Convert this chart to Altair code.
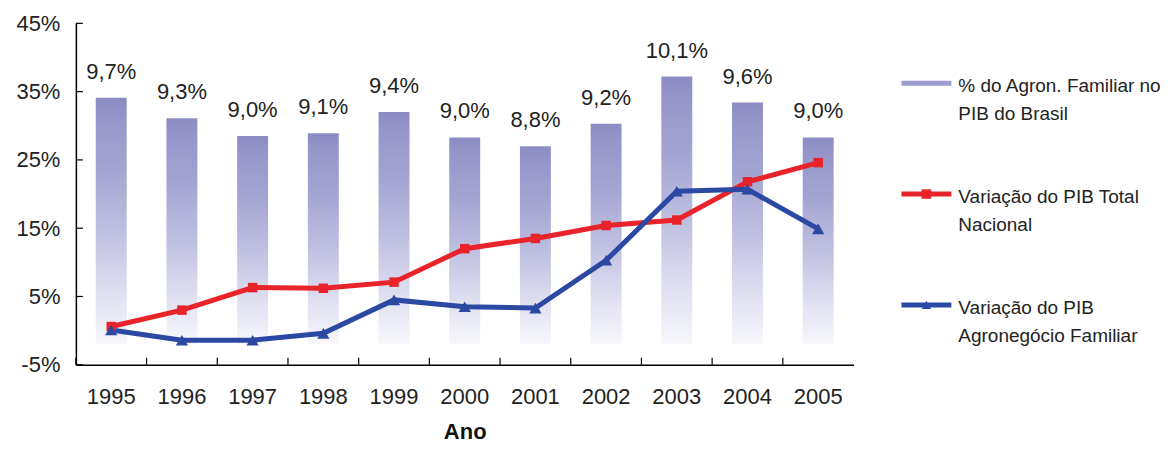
import altair as alt
import pandas as pd

years = ["1995", "1996", "1997", "1998", "1999", "2000", "2001", "2002", "2003", "2004", "2005"]
bar_top = [34.1, 31.1, 28.5, 28.9, 32.0, 28.3, 27.0, 30.3, 37.2, 33.4, 28.3]
bar_label = ["9,7%", "9,3%", "9,0%", "9,1%", "9,4%", "9,0%", "8,8%", "9,2%", "10,1%", "9,6%", "9,0%"]
pib_total = [0.6, 3.0, 6.3, 6.2, 7.1, 12.0, 13.5, 15.4, 16.2, 21.8, 24.6]
pib_agro = [0.1, -1.4, -1.4, -0.4, 4.5, 3.5, 3.3, 10.3, 20.4, 20.7, 14.9]
bar_base = -2
y_ticks = [-5, 5, 15, 25, 35, 45]

series = ["% do Agron. Familiar no", "Variação do PIB Total", "Variação do PIB"]
series_line2 = ["PIB do Brasil", "Nacional", "Agronegócio Familiar"]
series_color = ["#9C9CD0", "#E8232A", "#2B48A3"]
series_shape = ["none", "square", "triangle-up"]

FONT = "Liberation Sans"
W, H = 779, 342

df = pd.DataFrame({"year": years, "bar": bar_top, "label": bar_label,
                   "total": pib_total, "agro": pib_agro})
ticks_df = pd.DataFrame({"v": y_ticks})

yscale = alt.Scale(domain=[-5, 45])
xenc = alt.X("year:O", axis=alt.Axis(title="Ano", labelAngle=0, ticks=False, domainColor="#000",
                                       domainWidth=1.5, labelFontSize=22, labelPadding=22,
                                       labelColor="#222", titleFontSize=22, titleFontWeight="bold",
                                       titlePadding=14, titleColor="#111", labelFont=FONT, titleFont=FONT),
             scale=alt.Scale(paddingInner=0, paddingOuter=0))

base = alt.Chart(df)

grad = alt.Gradient(gradient="linear",
                    stops=[alt.GradientStop(color="#8C8CC4", offset=0),
                           alt.GradientStop(color="#9595CA", offset=0.08),
                           alt.GradientStop(color="#A5A5D3", offset=0.3),
                           alt.GradientStop(color="#C0C0E2", offset=0.55),
                           alt.GradientStop(color="#DEDEF0", offset=0.78),
                           alt.GradientStop(color="#F7F7FC", offset=1)],
                    x1=0, x2=0, y1=0, y2=1)

bars = base.mark_bar(size=31, color=grad).encode(
    x=xenc,
    y=alt.Y("bar:Q", scale=yscale,
            axis=alt.Axis(title=None, values=y_ticks, labelExpr="datum.value + '%'", ticks=False,
                          grid=False, domainColor="#000", domainWidth=1.5, labelFontSize=22,
                          labelPadding=16, minExtent=68, labelColor="#222", labelFont=FONT)),
    y2=alt.datum(bar_base),
)

bar_text = base.mark_text(dy=-26, fontSize=22, font=FONT, color="#222").encode(
    x="year:O", y=alt.Y("bar:Q", scale=yscale), text="label:N")

line_total = base.mark_line(color="#E8232A", strokeWidth=5).encode(
    x="year:O", y=alt.Y("total:Q", scale=yscale))
pts_total = base.mark_point(shape="square", filled=True, opacity=1, color="#E8232A", size=90).encode(
    x="year:O", y=alt.Y("total:Q", scale=yscale))
line_agro = base.mark_line(color="#2B48A3", strokeWidth=5).encode(
    x="year:O", y=alt.Y("agro:Q", scale=yscale))
pts_agro = base.mark_point(shape="triangle-up", filled=True, opacity=1, color="#2B48A3", size=150).encode(
    x="year:O", y=alt.Y("agro:Q", scale=yscale))

xt = base.mark_rule(color="#000", strokeWidth=1.2).encode(
    x=alt.X("year:O", bandPosition=0), y=alt.value(H - 7), y2=alt.value(H))
yt = alt.Chart(ticks_df).mark_rule(color="#000", strokeWidth=1.2).encode(
    y=alt.Y("v:Q", scale=yscale), x=alt.value(0), x2=alt.value(7))

main = alt.layer(bars, bar_text, line_total, line_agro, pts_total, pts_agro, xt, yt).properties(
    width=W, height=H)

leg_df = pd.DataFrame({"s": series, "l2": series_line2, "c": series_color, "shape": series_shape})
ly = alt.Y("s:N", sort=series, axis=None, scale=alt.Scale(paddingInner=0, paddingOuter=0.04))
lbase = alt.Chart(leg_df)
leg_line = lbase.mark_rule(strokeWidth=5).encode(
    y=ly, x=alt.value(0), x2=alt.value(50), color=alt.Color("c:N", scale=None))
leg_pts = lbase.transform_filter("datum.shape != 'none'").mark_point(filled=True, opacity=1, size=90).encode(
    y=ly, x=alt.value(25), color=alt.Color("c:N", scale=None),
    shape=alt.Shape("shape:N", scale=None))
leg_t1 = lbase.mark_text(align="left", dy=3, fontSize=19, font=FONT, color="#222").encode(
    y=ly, x=alt.value(57), text="s:N")
leg_t2 = lbase.mark_text(align="left", dy=31, fontSize=19, font=FONT, color="#222").encode(
    y=ly, x=alt.value(57), text="l2:N")
legend = alt.layer(leg_line, leg_pts, leg_t1, leg_t2).properties(width=262, height=H)

chart = (alt.hconcat(main, legend, spacing=45)
         .properties(padding={"left": 0, "top": 4, "right": 0, "bottom": 0})
         .configure(font=FONT)
         .configure_view(stroke="transparent", strokeWidth=0))

chart.save("out.html", embed_options={"renderer": "svg", "actions": False})
